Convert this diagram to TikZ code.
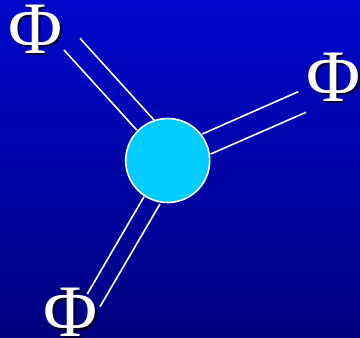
\documentclass[tikz,border=0pt]{standalone}
\usepackage{fontspec}
\setmainfont{Liberation Serif}
\definecolor{bgtop}{RGB}{0,8,204}
\definecolor{bgbot}{RGB}{0,0,128}
\definecolor{ballcyan}{RGB}{0,204,255}
\begin{document}
\begin{tikzpicture}[x=1pt,y=-1pt,
  phi/.style={text=white,font=\fontsize{74}{74}\selectfont,inner sep=0pt},
  phishadow/.style={text=black,opacity=0.7,font=\fontsize{74}{74}\selectfont,inner sep=0pt},
  leg/.style={draw=white,line width=1.6pt},
  ball/.style={circle,fill=ballcyan,draw=white,line width=1.6pt,minimum size=84pt,inner sep=0pt}]
\useasboundingbox (0,0) rectangle (360,338);
\shade[top color=bgtop,bottom color=bgbot] (0,0) rectangle (360,338);
% shadows
\node[phishadow] at (38,31.5) {Φ};
\node[phishadow] at (336,79.5) {Φ};
\node[phishadow] at (73,315) {Φ};
% labels
\node[phi] (p1) at (35.5,29) {Φ};
\node[phi] (p2) at (333.5,77) {Φ};
\node[phi] (p3) at (70.5,312.5) {Φ};
% leg end points
\coordinate (a1) at (64,50);   \coordinate (a2) at (136.7,130);
\coordinate (b1) at (80,38.3); \coordinate (b2) at (154,120);
\coordinate (c1) at (298.3,91.7); \coordinate (c2) at (202.3,134);
\coordinate (d1) at (306,112.3);  \coordinate (d2) at (210.7,154);
\coordinate (e1) at (87.3,294);  \coordinate (e2) at (144,196.7);
\coordinate (f1) at (100,306.7); \coordinate (f2) at (160,204);
\draw[leg] (a1) -- (a2);
\draw[leg] (b1) -- (b2);
\draw[leg] (c1) -- (c2);
\draw[leg] (d1) -- (d2);
\draw[leg] (e1) -- (e2);
\draw[leg] (f1) -- (f2);
\node[ball] (core) at (167.7,160.5) {};
\end{tikzpicture}
\end{document}
